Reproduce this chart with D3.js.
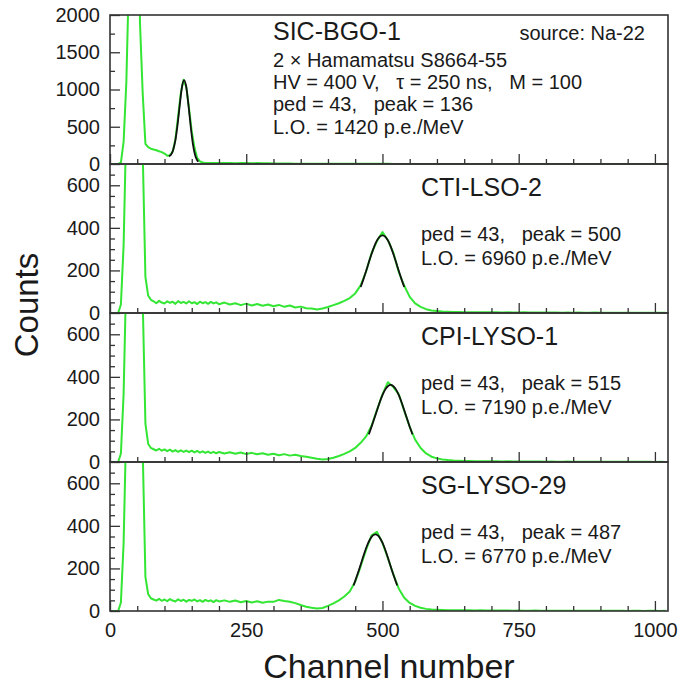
<!DOCTYPE html>
<html>
<head>
<meta charset="utf-8">
<script src="https://cdn.jsdelivr.net/npm/d3@7"></script>
<style>
  body { margin: 0; background: #fff; }
  text { font-family: "Liberation Sans", Arial, Helvetica, sans-serif; fill: #1a1a1a; }
</style>
</head>
<body>
<div id="chart"></div>
<script>
// channel bins shared by the four spectra
const channels = [0,5,10,15,20,25,30,35,40,45,50,55,60,65,70,75,80,85,90,95,100,
  105,110,115,120,125,130,135,140,145,150,155,160,165,170,175,180,185,190,195,200,
  210,220,230,240,250,260,270,280,290,300,310,320,330,340,350,360,370,380,390,400,
  410,420,430,440,450,460,470,480,490,500,510,520,530,540,550,560,570,580,590,600,
  610,620,630,640,650,660,670,680,690,700,710,720,730,740,750,760,770,780,790,800,
  810,820,830,840,850,860,870,880,890,900,910,920,930,940,950,960,970,980,990,1000,
  1010,1020];

// measured spectra (counts)
const sicBgo = [0,0,0,0,20,300,1100,2600,9000,12000,6000,1900,950,270,225,205,195,185,172,160,140,
  112,118,165,330,640,955,1130,1035,745,440,220,82,35,20,15,14,12,14,12,13,
  12,14,11,13,12,10,12,9,10,8, 7,6,6,5,5,4,4,4,3,3,
  3,3,2,2,2,2,2,2,2,2, 2,1,1,1,1,1,1,1,1,1,
  1,1,1,1,1,1,1,1,1,1, 1,1,1,1,1,1,1,1,1,1,
  0,0,0,0,0,0,0,0,0,0, 0,0,0,0,0,0,0,0,0,0, 0,0];
const ctiLso = [0,0,0,0,40,320,900,3000,9000,12000,9000,3500,760,170,82,62,55,46,57,49,45,
  55,48,53,43,56,47,52,45,55,46,51,42,53,46,51,43,52,45,50,41,
  49,40,46,37,44,35,42,34,40,32, 38,29,35,26,30,22,21,16,21,28,
  37,46,57,70,92,130,195,282,338,380, 342,283,192,128,76,45,29,18,12,9,
  7,6,5,5,4,4,3,4,3,3, 3,2,3,2,2,3,2,2,2,2,
  2,2,1,2,1,2,1,1,2,1, 1,1,1,1,1,1,1,1,1,1, 1,1];
const cpiLyso = [0,0,0,0,40,320,900,3000,9000,12000,9000,3500,760,180,86,66,60,54,62,53,59,
  51,58,49,56,48,55,47,54,46,53,45,52,44,50,43,49,42,48,41,47,
  40,46,39,45,37,43,36,41,34,39, 32,37,30,34,28,25,20,15,12,14,
  20,28,38,50,66,90,120,170,245,318, 375,352,318,240,165,105,66,40,25,17,
  12,9,7,6,5,5,4,4,3,3, 3,2,3,2,2,2,2,2,2,1,
  2,1,1,2,1,1,1,1,1,1, 1,1,1,1,1,1,1,1,1,0, 1,0];
const sgLyso = [0,0,0,0,40,320,900,3000,9000,12000,9000,3500,760,160,80,60,54,49,57,48,54,
  46,56,49,45,55,47,53,44,52,48,54,45,51,43,52,46,50,42,51,45,
  50,43,49,41,47,40,46,39,44,43, 52,47,43,37,28,20,15,12,14,24,
  36,50,68,92,138,210,288,355,372,320, 248,172,105,62,38,24,15,10,7,6,
  5,4,4,3,3,3,2,3,2,2, 2,2,2,1,2,1,1,2,1,1,
  1,1,1,1,1,1,1,1,1,1, 1,1,1,1,0,1,1,0,1,1, 0,1];

// fitted photo-peaks [channel, counts]
const fitSicBgo = [[108,105],[112,125],[116,190],[120,320],[124,530],[128,790],[132,1030],[136,1125],
  [140,1030],[144,790],[148,510],[152,275],[156,125],[160,50],[162,30]];
const fitCtiLso = [[460,122],[465,158],[470,197],[475,238],[480,277],[485,313],[490,341],[495,359],[500,365],
  [505,359],[510,341],[515,313],[520,277],[525,238],[530,197],[535,158],[540,122]];
const fitCpiLyso = [[475,130],[480,166],[485,204],[490,243],[495,281],[500,314],[505,340],[510,356],[515,362],
  [520,356],[525,340],[530,314],[535,281],[540,243],[545,204],[550,166],[555,130]];
const fitSgLyso = [[447,120],[452,156],[457,194],[462,234],[467,274],[472,309],[477,336],[482,354],[487,360],
  [492,354],[497,336],[502,309],[507,274],[512,234],[517,194],[522,156],[527,120]];

const crystals = ["SIC-BGO-1", "CTI-LSO-2", "CPI-LYSO-1", "SG-LYSO-29"];
const pedPeak = ["ped = 43,   peak = 136", "ped = 43,   peak = 500", "ped = 43,   peak = 515", "ped = 43,   peak = 487"];
const lightOutput = ["L.O. = 1420 p.e./MeV", "L.O. = 6960 p.e./MeV", "L.O. = 7190 p.e./MeV", "L.O. = 6770 p.e./MeV"];
const spectra = [sicBgo, ctiLso, cpiLyso, sgLyso];
const fits = [fitSicBgo, fitCtiLso, fitCpiLyso, fitSgLyso];
const yMax = [2000, 700, 700, 700];
const xTicks = [0, 250, 500, 750, 1000];

const W = 692, H = 687;
const left = 110, right = 668, top0 = 15, panelH = 149;

const svg = d3.select("#chart").append("svg")
  .attr("width", W).attr("height", H);

const x = d3.scaleLinear().domain([0, 1024]).range([left, right]);

spectra.forEach((vals, i) => {
  const top = top0 + i * panelH, bottom = top + panelH;
  const y = d3.scaleLinear().domain([0, yMax[i]]).range([bottom, top]);
  const g = svg.append("g");

  svg.append("clipPath").attr("id", "clip" + i)
    .append("rect").attr("x", left).attr("y", top).attr("width", right - left).attr("height", panelH);

  const plot = g.append("g").attr("clip-path", `url(#clip${i})`);
  plot.append("path")
    .datum(d3.zip(channels, vals))
    .attr("d", d3.line().x(d => x(d[0])).y(d => y(d[1])))
    .attr("fill", "none")
    .attr("stroke", "#33e633")
    .attr("stroke-width", 2)
    .attr("stroke-linejoin", "round");
  plot.append("path")
    .datum(fits[i])
    .attr("d", d3.line().x(d => x(d[0])).y(d => y(d[1])).curve(d3.curveMonotoneX))
    .attr("fill", "none")
    .attr("stroke", "#111")
    .attr("stroke-width", 1.8);

  // y axis: minor + major ticks pointing inside
  const major = i === 0 ? 500 : 200, minor = i === 0 ? 250 : 50;
  const yMinor = d3.range(0, yMax[i], minor).filter(v => v % major !== 0);
  const yMajor = d3.range(0, yMax[i] + 1, major);
  g.append("g").attr("transform", `translate(${left},0)`)
    .call(d3.axisLeft(y).tickValues(yMinor).tickSize(-5).tickFormat(""))
    .call(a => a.select(".domain").remove());
  g.append("g").attr("transform", `translate(${left},0)`)
    .call(d3.axisLeft(y).tickValues(yMajor).tickSize(-10).tickPadding(10).tickFormat(d3.format("d")))
    .call(a => a.select(".domain").remove())
    .call(a => a.selectAll("text").style("font-size", "20px"));

  // x axis ticks on every panel, labels only on the last
  const xMinor = d3.range(50, 1024, 50).filter(v => v % 250 !== 0);
  g.append("g").attr("transform", `translate(0,${bottom})`)
    .call(d3.axisBottom(x).tickValues(xMinor).tickSize(-5).tickFormat(""))
    .call(a => a.select(".domain").remove());
  g.append("g").attr("transform", `translate(0,${bottom})`)
    .call(d3.axisBottom(x).tickValues(xTicks).tickSize(-10).tickPadding(12)
      .tickFormat(i === 3 ? d3.format("d") : ""))
    .call(a => a.select(".domain").remove())
    .call(a => a.selectAll("text").style("font-size", "20px"));

  g.selectAll(".tick line").attr("stroke", "#333").attr("stroke-width", 1.3);

  // frame
  g.append("rect")
    .attr("x", left).attr("y", top).attr("width", right - left).attr("height", panelH)
    .attr("fill", "none").attr("stroke", "#333").attr("stroke-width", 1.6);

  // annotations
  if (i === 0) {
    g.append("text").attr("x", 273).attr("y", top + 25).style("font-size", "25px").text(crystals[i]);
    g.append("text").attr("x", 645).attr("y", top + 25).attr("text-anchor", "end")
      .style("font-size", "20px").text("source: Na-22");
    const lines = ["2 \u00d7 Hamamatsu S8664-55", "HV = 400 V,   \u03c4 = 250 ns,   M = 100", pedPeak[i], lightOutput[i]];
    lines.forEach((t, k) => {
      g.append("text").attr("x", 273).attr("y", top + 52 + k * 22.2)
        .style("font-size", "20px").style("white-space", "pre").text(t);
    });
  } else {
    g.append("text").attr("x", 421).attr("y", top + 32).style("font-size", "25px").text(crystals[i]);
    g.append("text").attr("x", 421).attr("y", top + 77)
      .style("font-size", "20px").style("white-space", "pre").text(pedPeak[i]);
    g.append("text").attr("x", 421).attr("y", top + 101)
      .style("font-size", "20px").text(lightOutput[i]);
  }
});

// axis titles
svg.append("text")
  .attr("transform", `translate(38,${top0 + 2 * panelH - 8}) rotate(-90)`)
  .attr("text-anchor", "middle")
  .style("font-size", "33px")
  .text("Counts");

svg.append("text")
  .attr("x", (left + right) / 2).attr("y", 678)
  .attr("text-anchor", "middle")
  .style("font-size", "34px")
  .text("Channel number");
</script>
</body>
</html>
